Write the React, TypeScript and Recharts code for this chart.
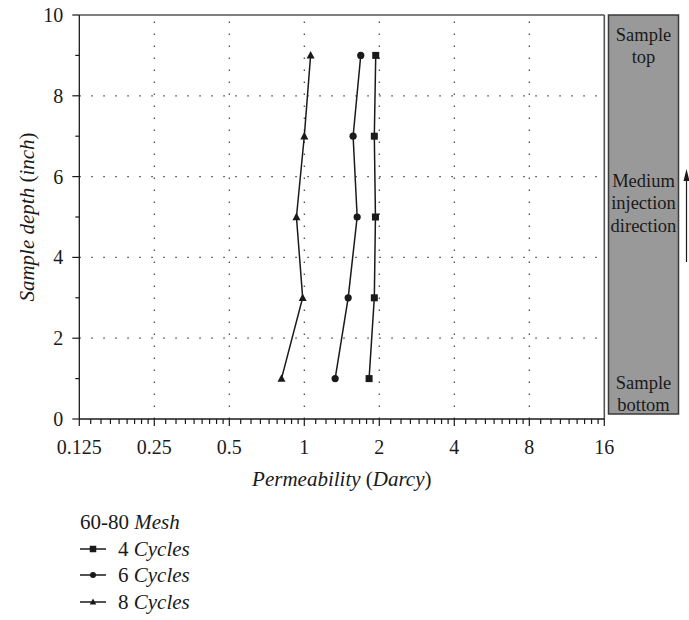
import React from 'react';
import { ScatterChart, Scatter, XAxis, YAxis, ReferenceLine, Label } from 'recharts';

const depths = [1, 3, 5, 7, 9];
const perm4Cycles = [1.82, 1.91, 1.93, 1.91, 1.935];
const perm6Cycles = [1.33, 1.5, 1.63, 1.57, 1.685];
const perm8Cycles = [0.81, 0.985, 0.93, 1.0, 1.06];

const xMajorTicks = [0.125, 0.25, 0.5, 1, 2, 4, 8, 16];
const xMinorSteps = [1, 2, 3, 4, 5, 6, 7, 8];
const yAllTicks = [0, 1, 2, 3, 4, 5, 6, 7, 8, 9, 10];
const yMajorTicks = [0, 2, 4, 6, 8, 10];
const xGridValues = [0.25, 0.5, 1, 2, 4, 8];
const yGridValues = [2, 4, 6, 8];

const legendTitle = '60-80';
const legendTitleItalic = 'Mesh';
const seriesNumbers = ['4', '6', '8'];
const seriesWord = 'Cycles';

const FONT = '"Liberation Serif", "Times New Roman", serif';
const INK = '#1a1a1a';

const xMinorTicks: number[] = [];
xMajorTicks.slice(0, -1).forEach((m) => {
  xMinorSteps.forEach((k) => xMinorTicks.push(m * (1 + k / 9)));
});
const xAllTicks = [...xMajorTicks, ...xMinorTicks].sort((a, b) => a - b);

const toPoints = (vals: number[]) => depths.map((d, i) => ({ perm: vals[i], depth: d }));
const data4 = toPoints(perm4Cycles);
const data6 = toPoints(perm6Cycles);
const data8 = toPoints(perm8Cycles);

const isMajorX = (v: number) => xMajorTicks.some((t) => Math.abs(t - v) < 1e-9);
const fmtX = (v: number) => String(v);

const XTick = (p: any) => {
  const v = p.payload.value;
  const major = isMajorX(v);
  const axisY = p.y - 8;
  const cx = p.payload.coordinate ?? p.x;
  return (
    <g>
      <line x1={cx} x2={cx} y1={axisY} y2={axisY + (major ? 7 : 5)} stroke={INK} strokeWidth={1.2} />
      {major && (
        <text x={cx} y={axisY + 28} textAnchor="middle" dominantBaseline="central" fontFamily={FONT} fontSize={20} fill={INK}>
          {fmtX(v)}
        </text>
      )}
    </g>
  );
};

const YTick = (p: any) => {
  const v = p.payload.value;
  const major = yMajorTicks.includes(v);
  const axisX = p.x + 8;
  const cy = p.payload.coordinate ?? p.y;
  return (
    <g>
      <line x1={axisX - (major ? 7 : 4)} x2={axisX} y1={cy} y2={cy} stroke={INK} strokeWidth={1.2} />
      {major && (
        <text x={axisX - 16} y={cy} textAnchor="end" dominantBaseline="central" fontFamily={FONT} fontSize={20} fill={INK}>
          {v}
        </text>
      )}
    </g>
  );
};

const XTitle = (p: any) => {
  const vb = p.viewBox || {};
  return (
    <text x={vb.x + vb.width / 2} y={vb.y + 60} textAnchor="middle" dominantBaseline="central" fontFamily={FONT} fontSize={21} fill={INK}>
      <tspan fontStyle="italic">Permeability</tspan>
      <tspan> (</tspan>
      <tspan fontStyle="italic">Darcy</tspan>
      <tspan>)</tspan>
    </text>
  );
};

const YTitle = (p: any) => {
  const vb = p.viewBox || {};
  const cx = vb.x + 27;
  const cy = vb.y + vb.height / 2;
  return (
    <text x={cx} y={cy} transform={`rotate(-90 ${cx} ${cy})`} textAnchor="middle" dominantBaseline="central" fontFamily={FONT} fontSize={21} fill={INK}>
      <tspan fontStyle="italic">Sample depth</tspan>
      <tspan> (</tspan>
      <tspan fontStyle="italic">inch</tspan>
      <tspan>)</tspan>
    </text>
  );
};

const SquareMark = ({ cx, cy, s = 7 }: any) => <rect x={cx - s / 2} y={cy - s / 2} width={s} height={s} fill={INK} />;
const CircleMark = ({ cx, cy, r = 3.6 }: any) => <circle cx={cx} cy={cy} r={r} fill={INK} />;
const TriangleMark = ({ cx, cy, s = 8 }: any) => (
  <polygon points={`${cx},${cy - s * 0.55} ${cx - s / 2},${cy + s * 0.4} ${cx + s / 2},${cy + s * 0.4}`} fill={INK} />
);

const markers = [SquareMark, CircleMark, TriangleMark];

export default function App() {
  const gridStroke = '#444';
  const legendRows = [549, 575, 602];
  return (
    <div style={{ position: 'absolute', left: 0, top: 0, width: 689, height: 620, background: '#fff' }}>
      <ScatterChart width={689} height={500} margin={{ top: 15, right: 84.7, left: 0, bottom: 0 }}>
        <XAxis
          type="number"
          dataKey="perm"
          scale="log"
          domain={[0.125, 16]}
          allowDataOverflow
          ticks={xAllTicks}
          interval={0}
          tick={(p: any) => <XTick {...p} />}
          tickLine={false}
          tickSize={8}
          tickMargin={0}
          height={81}
          axisLine={{ stroke: INK, strokeWidth: 1.3 }}
        >
          <Label content={(p: any) => <XTitle {...p} />} />
        </XAxis>
        <YAxis
          type="number"
          dataKey="depth"
          domain={[0, 10]}
          allowDataOverflow
          ticks={yAllTicks}
          interval={0}
          tick={(p: any) => <YTick {...p} />}
          tickLine={false}
          tickSize={8}
          tickMargin={0}
          width={79.3}
          axisLine={{ stroke: INK, strokeWidth: 1.3 }}
        >
          <Label content={(p: any) => <YTitle {...p} />} />
        </YAxis>
        {xGridValues.map((v) => (
          <ReferenceLine key={'gx' + v} x={v} stroke={gridStroke} strokeWidth={1.2} strokeDasharray="1.5 10.5" />
        ))}
        {yGridValues.map((v) => (
          <ReferenceLine key={'gy' + v} y={v} stroke={gridStroke} strokeWidth={1.2} strokeDasharray="1.5 10.5" />
        ))}
        <ReferenceLine y={10} stroke="#555" strokeWidth={1.6} />
        <ReferenceLine x={16} stroke="#555" strokeWidth={1.6} />
        <Scatter name="4 Cycles" data={data4} line={{ stroke: INK, strokeWidth: 1.5 }} shape={(p: any) => <SquareMark cx={p.cx} cy={p.cy} />} isAnimationActive={false} />
        <Scatter name="6 Cycles" data={data6} line={{ stroke: INK, strokeWidth: 1.5 }} shape={(p: any) => <CircleMark cx={p.cx} cy={p.cy} />} isAnimationActive={false} />
        <Scatter name="8 Cycles" data={data8} line={{ stroke: INK, strokeWidth: 1.5 }} shape={(p: any) => <TriangleMark cx={p.cx} cy={p.cy} />} isAnimationActive={false} />
      </ScatterChart>
      <svg width={689} height={620} style={{ position: 'absolute', left: 0, top: 0, pointerEvents: 'none' }}>
        <rect x={608.5} y={15} width={70} height={399} fill="#999999" stroke="#3a3a3a" strokeWidth={1.5} />
        <g fontFamily={FONT} fontSize={18.5} fill={INK} textAnchor="middle" dominantBaseline="central">
          <text x={643.5} y={35}>Sample</text>
          <text x={643.5} y={57}>top</text>
          <text x={643.5} y={181}>Medium</text>
          <text x={643.5} y={203}>injection</text>
          <text x={643.5} y={226}>direction</text>
          <text x={643.5} y={383}>Sample</text>
          <text x={643.5} y={405}>bottom</text>
        </g>
        <line x1={686.5} x2={686.5} y1={262} y2={178} stroke={INK} strokeWidth={1.2} />
        <polygon points="686.5,169 683.5,181 689.5,181" fill={INK} />
        <g fontFamily={FONT} fontSize={21} fill={INK} dominantBaseline="central">
          <text x={80} y={522}>
            <tspan>{legendTitle} </tspan>
            <tspan fontStyle="italic">{legendTitleItalic}</tspan>
          </text>
          {legendRows.map((y, i) => {
            const M = markers[i];
            return (
              <g key={i}>
                <line x1={80} x2={106} y1={y} y2={y} stroke={INK} strokeWidth={1.5} />
                <M cx={93} cy={y} s={6.5} r={3} />
                <text x={118} y={y}>
                  <tspan>{seriesNumbers[i]} </tspan>
                  <tspan fontStyle="italic">{seriesWord}</tspan>
                </text>
              </g>
            );
          })}
        </g>
      </svg>
    </div>
  );
}
